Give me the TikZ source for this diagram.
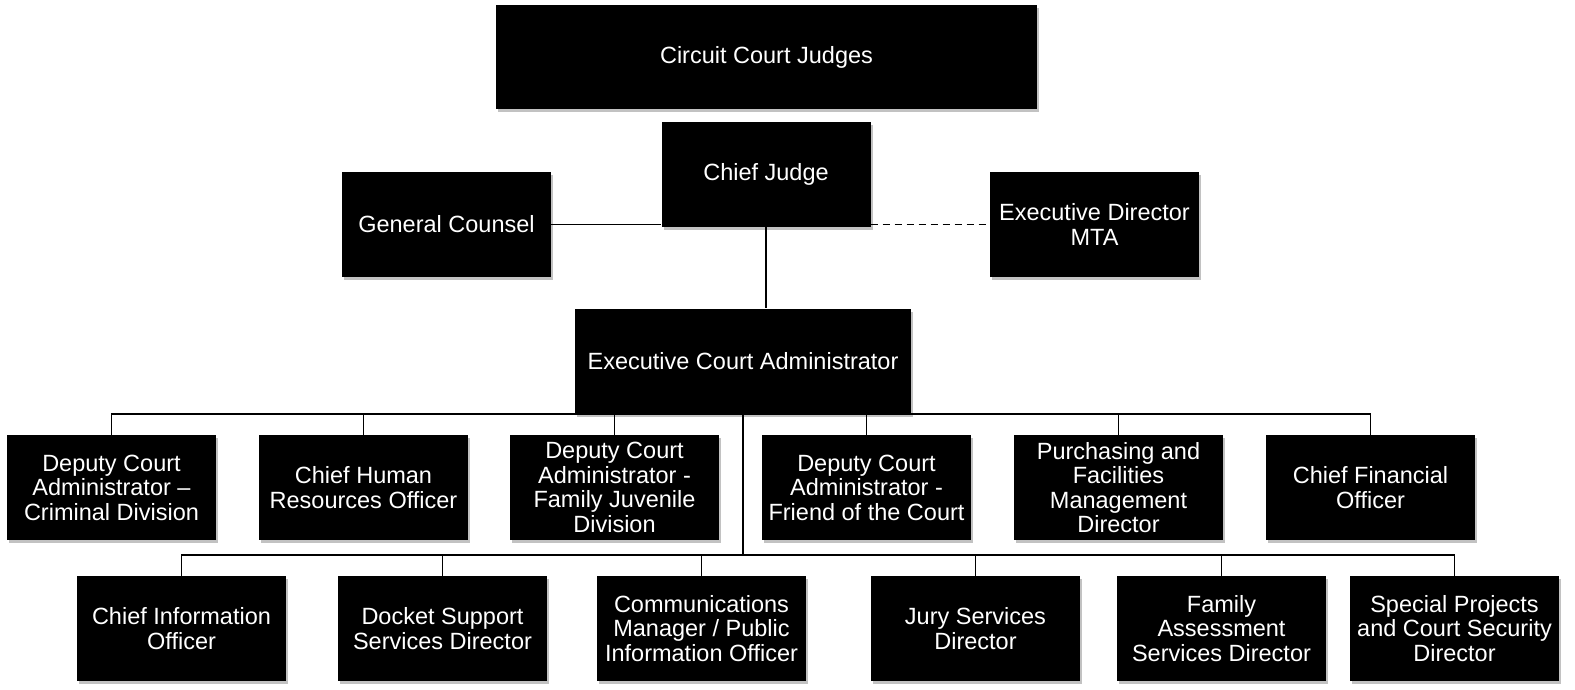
\documentclass[tikz,border=0pt]{standalone}
\usepackage{fontspec}
\setmainfont{Liberation Sans}
\usepackage{xcolor}
\usetikzlibrary{shadows}
\definecolor{shadowGray}{HTML}{9A9A9A}

\begin{document}
\begin{tikzpicture}[
    x=1pt,y=-1pt,
    every node/.style={font=\fontsize{23.5}{24.5}\selectfont},
    post/.style={rectangle,fill=black,text=white,
                 minimum width=209pt,minimum height=105pt,
                 inner sep=2pt,align=center,
                 drop shadow={shadow xshift=2pt,shadow yshift=-3pt,
                              fill=shadowGray,opacity=0.6}},
    wide/.style={post,minimum width=541pt,minimum height=104pt},
    link/.style={line width=1.8pt,black},
    dotted link/.style={link,dash pattern=on 7pt off 5pt}
  ]
  \useasboundingbox (0,0) rectangle (1575,689);
  %% top of the chart
  \node[wide] (CCJ) at (766.5,57) {Circuit Court Judges};
  \node[post] (CJ) at (766,174) {Chief Judge};
  \node[post] (GC) at (446.5,224.5) {General Counsel};
  \node[post] (MTA) at (1094.5,224.5) {Executive Director\\MTA};
  \node[post,minimum width=336pt] (ECA) at (743,361) {Executive Court Administrator};
  %% first row of reports
  \node[post] (R1) at (111.5,487.5) {Deputy Court\\Administrator --\\Criminal Division};
  \node[post] (R2) at (363.5,487.5) {Chief Human\\Resources Officer};
  \node[post] (R3) at (614.5,487.5) {Deputy Court\\Administrator -\\Family Juvenile\\Division};
  \node[post] (R4) at (866.5,487.5) {Deputy Court\\Administrator -\\Friend of the Court};
  \node[post] (R5) at (1118.5,487.5) {Purchasing and\\Facilities\\Management\\Director};
  \node[post] (R6) at (1370.5,487.5) {Chief Financial\\Officer};
  %% second row of reports
  \node[post] (S1) at (181.5,628.5) {Chief Information\\Officer};
  \node[post] (S2) at (442.5,628.5) {Docket Support\\Services Director};
  \node[post] (S3) at (701.5,628.5) {Communications\\Manager / Public\\Information Officer};
  \node[post] (S4) at (975.5,628.5) {Jury Services\\Director};
  \node[post] (S5) at (1221.5,628.5) {Family\\Assessment\\Services Director};
  \node[post] (S6) at (1454.5,628.5) {Special Projects\\and Court Security\\Director};
  \coordinate (bus) at (743,555);
  %% connectors
  \draw[link] (GC.east) -- (GC.east -| CJ.west);
  \draw[dotted link] (MTA.west -| CJ.east) -- (MTA.west);
  \draw[link] (CJ.south) -- (CJ.south |- ECA.north);
  \foreach \r in {R1,R2,R3,R4,R5,R6}
    \draw[link] (\r.north) |- (ECA.south);
  \draw[link] (ECA.south) -- (bus);
  \foreach \s in {S1,S2,S3,S4,S5,S6}
    \draw[link] (\s.north) |- (bus);
\end{tikzpicture}
\end{document}
